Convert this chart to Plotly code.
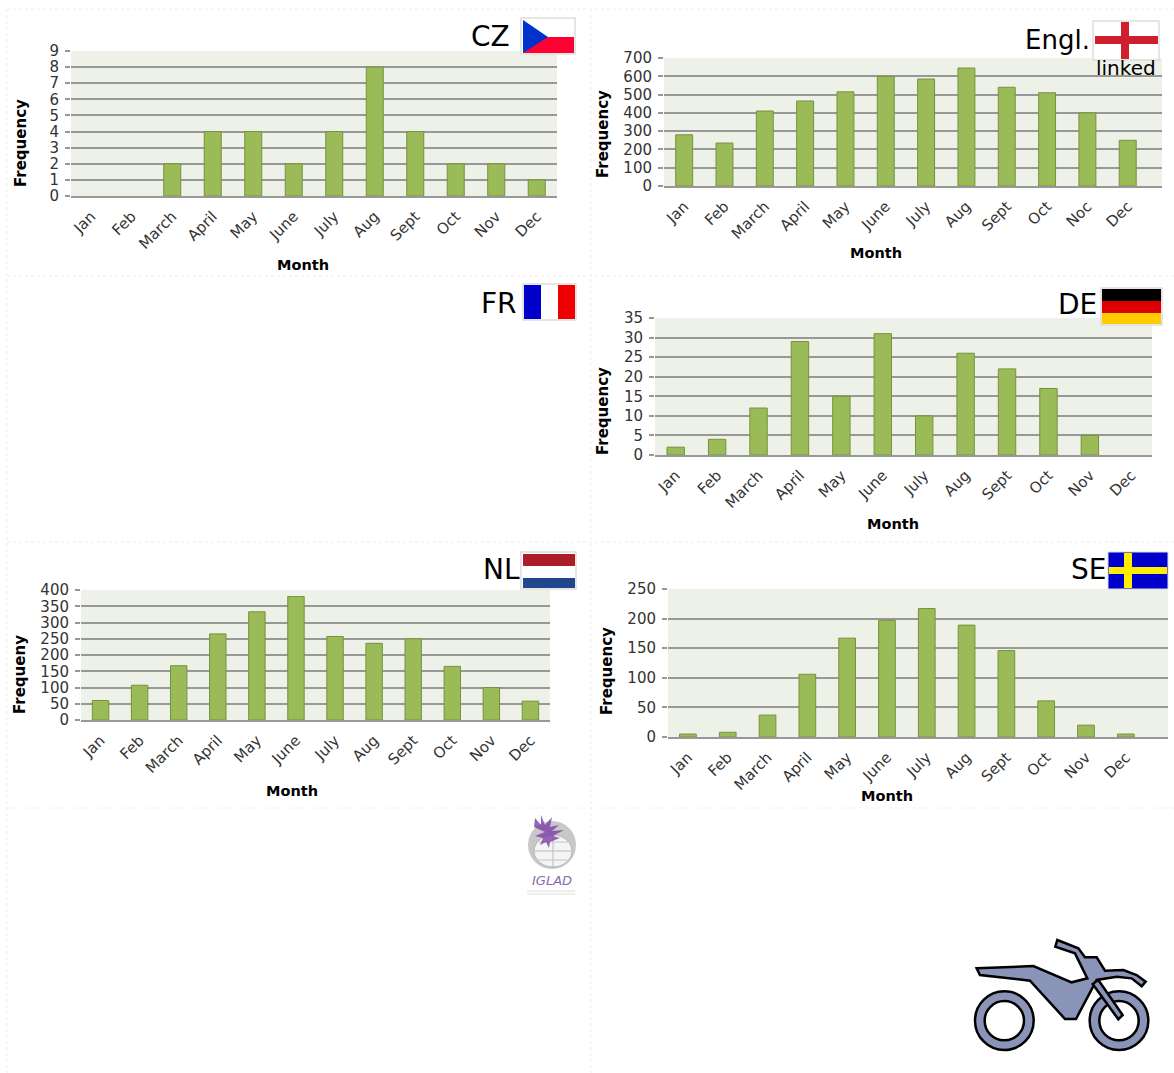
import plotly.graph_objects as go

W, H = 1174, 1073

MONTHS = ["Jan", "Feb", "March", "April", "May", "June", "July", "Aug", "Sept", "Oct", "Nov", "Dec"]
MONTHS_ENGL = ["Jan", "Feb", "March", "April", "May", "June", "July", "Aug", "Sept", "Oct", "Noc", "Dec"]

CZ_VALUES = [0, 0, 2, 4, 4, 2, 4, 8, 4, 2, 2, 1]
ENGL_VALUES = [280, 235, 410, 465, 515, 600, 585, 645, 540, 510, 400, 250]
DE_VALUES = [2, 4, 12, 29, 15, 31, 10, 26, 22, 17, 5, 0]
NL_VALUES = [60, 107, 167, 265, 333, 380, 257, 236, 250, 165, 100, 58]
SE_VALUES = [5, 8, 37, 106, 167, 197, 217, 189, 146, 61, 20, 5]

CZ_TICKS = [0, 1, 2, 3, 4, 5, 6, 7, 8, 9]
ENGL_TICKS = [0, 100, 200, 300, 400, 500, 600, 700]
DE_TICKS = [0, 5, 10, 15, 20, 25, 30, 35]
NL_TICKS = [0, 50, 100, 150, 200, 250, 300, 350, 400]
SE_TICKS = [0, 50, 100, 150, 200, 250]

# name, categories, values, ticks, (left, right, top, bottom), category range end, ytitle, ytitle xy, month xy
PANELS = [
    ("CZ", MONTHS, CZ_VALUES, CZ_TICKS, (71, 557, 51, 196), 11.5, "Frequency", (21, 143), (303, 265)),
    ("Engl.", MONTHS_ENGL, ENGL_VALUES, ENGL_TICKS, (664, 1162, 58, 186), 11.85, "Frequency", (603, 134), (876, 253)),
    ("DE", MONTHS, DE_VALUES, DE_TICKS, (655, 1152, 318, 455), 11.5, "Frequency", (603, 411), (893, 524)),
    ("NL", MONTHS, NL_VALUES, NL_TICKS, (81, 550, 590, 720), 11.5, "Frequeny", (20, 675), (292, 791)),
    ("SE", MONTHS, SE_VALUES, SE_TICKS, (668, 1168, 589, 737), 12.06, "Frequency", (607, 671), (887, 796)),
]

FONT = "DejaVu Sans"
GRID = "#989898"


def fx(x):
    return x / W


def fy(y):
    return 1 - y / H


fig = go.Figure()
shapes = []
annotations = []


def paper_text(x, y, text, size, color="#000000", anchor="center", bold=False, angle=0, italic=False):
    annotations.append(dict(
        x=fx(x), y=fy(y), xref="paper", yref="paper", text=f"<b>{text}</b>" if bold else (f"<i>{text}</i>" if italic else text),
        showarrow=False, xanchor=anchor, yanchor="middle", textangle=angle,
        font=dict(family=FONT, size=size, color=color),
    ))


def rect(x0, y0, x1, y1, fill, line=None, lw=0):
    shapes.append(dict(type="rect", xref="paper", yref="paper", x0=fx(x0), x1=fx(x1), y0=fy(y0), y1=fy(y1),
                       fillcolor=fill, line=dict(color=line or fill, width=lw)))


def poly(points, fill, line=None, lw=0, opacity=1):
    path = "M " + " L ".join(f"{fx(x):.5f},{fy(y):.5f}" for x, y in points) + " Z"
    shapes.append(dict(type="path", xref="paper", yref="paper", path=path, fillcolor=fill, opacity=opacity,
                       line=dict(color=line or fill, width=lw)))


def circle(cx, cy, r, fill, line=None, lw=0, ry=None):
    ry = ry or r
    shapes.append(dict(type="circle", xref="paper", yref="paper", x0=fx(cx - r), x1=fx(cx + r),
                       y0=fy(cy + ry), y1=fy(cy - ry), fillcolor=fill, line=dict(color=line or fill, width=lw)))


def seg(x0, y0, x1, y1, color, lw, dash="solid"):
    shapes.append(dict(type="line", xref="paper", yref="paper", x0=fx(x0), x1=fx(x1), y0=fy(y0), y1=fy(y1),
                       line=dict(color=color, width=lw, dash=dash)))


layout_axes = {}
for i, (name, cats, vals, ticks, (l, r, t, b), xend, ytitle, ypos, mpos) in enumerate(PANELS, start=1):
    fig.add_trace(go.Bar(
        x=cats, y=[v if v else None for v in vals], name=name, xaxis=f"x{i}", yaxis=f"y{i}",
        marker=dict(color="#9BBB59", line=dict(color="#76923C", width=1)),
        showlegend=False,
    ))
    layout_axes[f"xaxis{i}"] = dict(
        domain=[fx(l), fx(r)], anchor=f"y{i}", type="category", categoryorder="array", categoryarray=cats,
        tickangle=-45, tickfont=dict(family=FONT, size=15, color="#333333"), automargin=False,
        range=[-0.5, xend],
        showgrid=False, showline=True, linecolor=GRID, linewidth=1.5, ticks="", zeroline=False, ticklabelstandoff=4,
    )
    layout_axes[f"yaxis{i}"] = dict(
        domain=[fy(b), fy(t)], anchor=f"x{i}", range=[0, ticks[-1]], tickmode="array", tickvals=ticks,
        tickfont=dict(family=FONT, size=15, color="#333333"), automargin=False,
        showgrid=True, gridcolor=GRID, gridwidth=1.5, zeroline=False, showline=False,
        ticks="outside", ticklen=5, tickcolor=GRID, tickwidth=1.5, ticklabelstandoff=3,
    )
    paper_text(ypos[0], ypos[1], ytitle, 15, bold=True, angle=-90)
    paper_text(mpos[0], mpos[1], "Month", 14.5, bold=True)

# faint dotted panel borders
BORDER = "#efefe6"
for y in (9, 276, 542, 808):
    seg(7, y, 1174, y, BORDER, 1, "dot")
for x in (7, 591):
    seg(x, 9, x, 1073, BORDER, 1, "dot")

# flags
FRAME = "#dddddd"
# CZ
rect(521, 18, 575, 54, "#ffffff", FRAME, 1.5)
rect(523, 37, 574, 53, "#FF0033")
poly([(523, 20), (548, 37), (523, 53)], "#0033CC")
# England
rect(1093, 21, 1159, 60, "#ffffff", FRAME, 1.5)
rect(1095, 36, 1158, 44, "#CF1F2E")
rect(1121, 22, 1129, 59, "#CF1F2E")
# France
rect(523, 284, 576, 320, "#ffffff", FRAME, 1.5)
rect(524, 285, 541, 319, "#0000CC")
rect(558, 285, 575, 319, "#EE0000")
# Germany
rect(1101, 288, 1162, 325, "#ffffff", FRAME, 1.5)
rect(1102, 289, 1161, 301, "#000000")
rect(1102, 301, 1161, 313, "#DD0000")
rect(1102, 313, 1161, 324, "#FFCC00")
# Netherlands
rect(521, 552, 576, 589, "#ffffff", FRAME, 1.5)
rect(523, 554, 575, 566, "#AE1C28")
rect(523, 578, 575, 588, "#21468B")
# Sweden
rect(1108, 552, 1168, 589, "#0000CC", FRAME, 1)
rect(1109, 567, 1167, 574, "#FFEE00")
rect(1124, 553, 1132, 588, "#FFEE00")

paper_text(512, 36, "CZ", 28, anchor="right")
paper_text(1092, 40, "Engl.", 26, anchor="right")
paper_text(1126, 68, "linked", 20)
paper_text(519, 303, "FR", 28, anchor="right")
paper_text(1099, 304, "DE", 28, anchor="right")
paper_text(522, 569, "NL", 28, anchor="right")
paper_text(1108, 569, "SE", 28, anchor="right")

# IGLAD logo
circle(552, 845, 24, "#c8c8c8", None, 0, ry=24)
circle(553, 851, 19, "#f4f4f4", "#b5b5b5", 1, ry=16)
seg(535, 851, 571, 851, "#b8b8b8", 1)
seg(553, 835, 553, 867, "#b8b8b8", 1)
seg(538, 842, 568, 842, "#c4c4c4", 1)
seg(538, 860, 568, 860, "#c4c4c4", 1)
poly([(535, 818), (541, 825), (541, 815), (545, 825), (552, 817), (550, 827), (559, 825), (552, 831),
      (564, 830), (553, 836), (560, 838), (550, 842), (549, 848), (546, 842), (540, 845), (543, 838),
      (535, 836), (545, 832), (534, 827)], "#7A3FA8", opacity=0.8)
paper_text(552, 880, "IGLAD", 13, color="#8A6CAB", italic=True)
seg(527, 891, 575, 891, "#dcdcdc", 1)
seg(527, 894, 575, 894, "#dcdcdc", 1)

# motorbike, drawn in the coordinates of its own small box
MX, MY, S = 950, 920, 1 / 3


def m(p):
    return [(MX + x * S, MY + y * S) for x, y in p]


BIKE = "#8A94B8"
circle(MX + 163 * S, MY + 302 * S, 88 * S, BIKE, "#000000", 2.5)
circle(MX + 163 * S, MY + 302 * S, 59 * S, "#ffffff", "#000000", 2.5)
circle(MX + 507 * S, MY + 302 * S, 88 * S, BIKE, "#000000", 2.5)
circle(MX + 507 * S, MY + 302 * S, 59 * S, "#ffffff", "#000000", 2.5)
poly(m([(80, 145), (250, 138), (365, 187), (412, 175), (375, 100), (316, 80), (322, 60), (385, 85), (405, 112),
        (440, 112), (465, 152), (520, 150), (560, 165), (587, 185), (575, 199), (545, 175), (500, 170), (440, 180),
        (378, 297), (345, 297), (240, 182), (90, 165)]), BIKE, "#000000", 2.5)
poly(m([(445, 180), (518, 285), (505, 298), (428, 192)]), BIKE, "#000000", 2.5)

fig.update_layout(
    width=W, height=H, margin=dict(l=0, r=0, t=0, b=0, pad=0), autosize=False,
    paper_bgcolor="#ffffff", plot_bgcolor="#EEF1E8", font=dict(family=FONT),
    bargap=0.58, shapes=shapes, annotations=annotations, **layout_axes,
)

fig.write_html("out.html", config={"displayModeBar": False}, post_script="document.body.style.margin='0';")
